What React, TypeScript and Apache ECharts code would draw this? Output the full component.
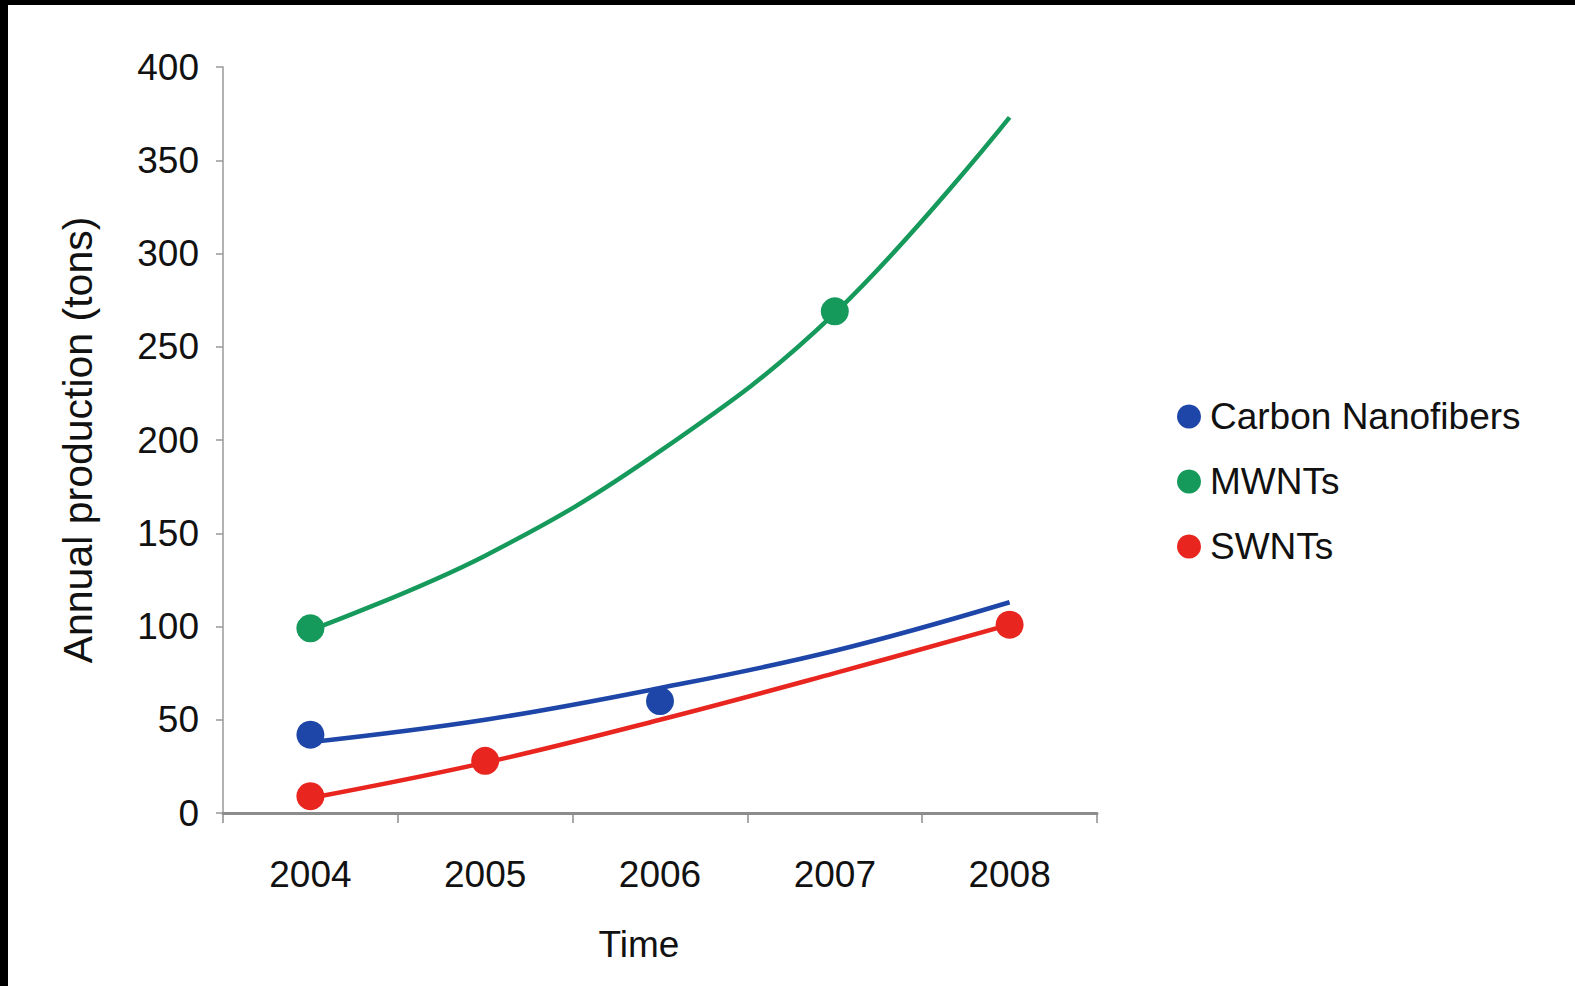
import React, { useEffect, useRef } from "react";
import * as echarts from "echarts";

const years = ["2004", "2005", "2006", "2007", "2008"];
const seriesNames = ["Carbon Nanofibers", "MWNTs", "SWNTs"];
const colors = ["#1e46a8", "#169a5c", "#e8251f"];

// Trend curves (values at each year)
const cnfTrend = [38, 50, 67, 87, 113];
const mwntTrend = [98, 138, 194, 268, 373];
const swntTrend = [8, 27, 50, 75, 101];

// Measured points (null = no point)
const cnfPoints = [42, null, 60, null, null];
const mwntPoints = [99, null, null, 269, null];
const swntPoints = [9, 28, null, null, 101];

const yTicks = { min: 0, max: 400, interval: 50 };

const FONT = "'Liberation Sans', Arial, Helvetica, sans-serif";

export default function App() {
  const ref = useRef<HTMLDivElement>(null);

  useEffect(() => {
    if (!ref.current) return;
    const chart = echarts.init(ref.current, undefined, { renderer: "svg" });
    const trends = [cnfTrend, mwntTrend, swntTrend];
    const points = [cnfPoints, mwntPoints, swntPoints];

    const series: any[] = [];
    seriesNames.forEach((name, i) => {
      series.push({
        name,
        type: "line",
        data: trends[i],
        smooth: 0.4,
        showSymbol: false,
        symbol: "none",
        lineStyle: { color: colors[i], width: 4.5 },
        itemStyle: { color: colors[i] },
        z: 2,
      });
    });
    seriesNames.forEach((name, i) => {
      series.push({
        name,
        type: "scatter",
        data: points[i].map((v, j) => (v == null ? null : [j, v])).filter((d) => d != null),
        symbol: "circle",
        symbolSize: 28,
        itemStyle: { color: colors[i], opacity: 1 },
        z: 3,
      });
    });

    chart.setOption({
      animation: false,
      backgroundColor: "#ffffff",
      textStyle: { fontFamily: FONT },
      grid: { left: 223, right: 478, top: 67, bottom: 173 },
      legend: {
        orient: "vertical",
        left: 1172,
        top: 393,
        data: seriesNames,
        icon: "circle",
        itemWidth: 24,
        itemHeight: 24,
        itemGap: 28,
        textStyle: {
          fontSize: 37,
          color: "#111",
          fontFamily: FONT,
          padding: [0, 0, 0, 4],
        },
      },
      xAxis: {
        type: "category",
        data: years,
        boundaryGap: true,
        name: "Time",
        nameLocation: "middle",
        nameGap: 113,
        nameTextStyle: {
          fontSize: 37,
          color: "#111",
          fontFamily: FONT,
          padding: [0, 42, 0, 0],
        },
        axisLine: { lineStyle: { color: "#8c8c8c", width: 3 } },
        axisTick: { show: true, length: 10, lineStyle: { color: "#8c8c8c", width: 1.5 } },
        axisLabel: { fontSize: 37, color: "#111", margin: 43, fontFamily: FONT },
        splitLine: { show: false },
      },
      yAxis: {
        type: "value",
        min: yTicks.min,
        max: yTicks.max,
        interval: yTicks.interval,
        name: "Annual production (tons)",
        nameLocation: "middle",
        nameGap: 125,
        nameTextStyle: { fontSize: 41, color: "#111", fontFamily: FONT },
        axisLine: { show: true, lineStyle: { color: "#999", width: 1.5 } },
        axisTick: { show: true, length: 7, lineStyle: { color: "#999", width: 1.5 } },
        axisLabel: { fontSize: 37, color: "#111", margin: 24, fontFamily: FONT },
        splitLine: { show: false },
      },
      graphic: [
        { type: "rect", shape: { x: 0, y: 0, width: 1575, height: 5 }, style: { fill: "#000" }, z: 100 },
        { type: "rect", shape: { x: 0, y: 0, width: 8, height: 986 }, style: { fill: "#000" }, z: 100 },
      ],
      series,
    });

    return () => chart.dispose();
  }, []);

  return (
    <div style={{ position: "fixed", left: 0, top: 0, width: 1575, height: 986, background: "#fff" }}>
      <div ref={ref} style={{ width: 1575, height: 986 }} />
    </div>
  );
}
